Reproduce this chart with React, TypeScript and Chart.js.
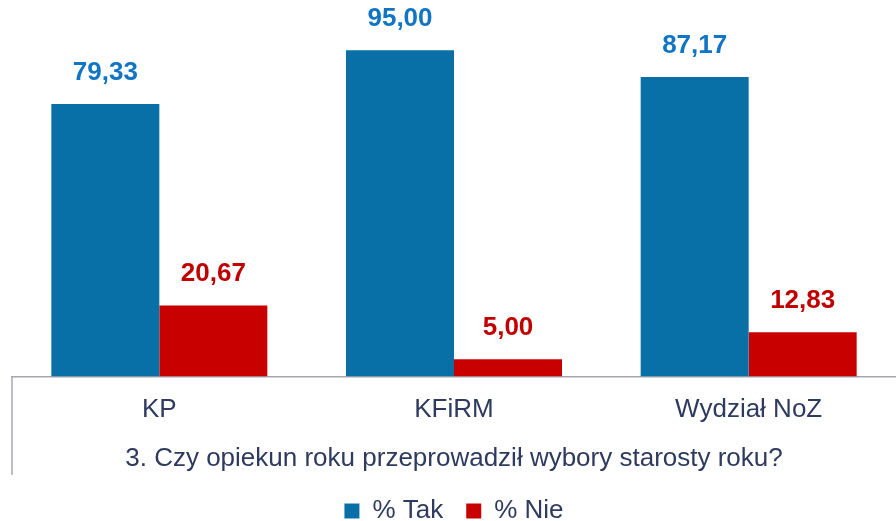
import React, { useEffect, useRef } from 'react';
import { Chart, registerables } from 'chart.js';

Chart.register(...registerables);

const categories = ['KP', 'KFiRM', 'Wydział NoZ'];
const takValues = [79.33, 95.0, 87.17];
const nieValues = [20.67, 5.0, 12.83];
const seriesLabels = ['% Tak', '% Nie'];
const axisTitle = '3. Czy opiekun roku przeprowadził wybory starosty roku?';

const FONT = '"Liberation Sans", Arial, sans-serif';
const TEXT = '#2E3A5E';
const BAR_COLORS = ['#0870A6', '#C80000'];
const LABEL_COLORS = ['#1174C4', '#C00000'];

const valueLabels = {
  id: 'valueLabels',
  afterDatasetsDraw(chart: any) {
    const ctx = chart.ctx;
    chart.data.datasets.forEach((ds: any, i: number) => {
      const meta = chart.getDatasetMeta(i);
      meta.data.forEach((bar: any, j: number) => {
        const v = ds.data[j] as number;
        ctx.save();
        ctx.font = `bold 26px ${FONT}`;
        ctx.fillStyle = LABEL_COLORS[i];
        ctx.textAlign = 'center';
        ctx.textBaseline = 'alphabetic';
        ctx.fillText(v.toFixed(2).replace('.', ','), bar.x, bar.y - 24);
        ctx.restore();
      });
    });
  },
};

const leftBorder = {
  id: 'leftBorder',
  afterDraw(chart: any) {
    const ctx = chart.ctx;
    const x = chart.chartArea.left;
    const xs = chart.scales.x;
    ctx.save();
    ctx.strokeStyle = '#A6A6AE';
    ctx.lineWidth = 1.5;
    ctx.beginPath();
    ctx.moveTo(x, chart.chartArea.bottom);
    ctx.lineTo(x, xs.bottom);
    ctx.stroke();
    ctx.restore();
  },
};

export default function App() {
  const ref = useRef<HTMLCanvasElement | null>(null);
  useEffect(() => {
    if (!ref.current) return;
    const chart = new Chart(ref.current, {
      type: 'bar',
      data: {
        labels: categories,
        datasets: [
          { label: seriesLabels[0], data: takValues, backgroundColor: BAR_COLORS[0], categoryPercentage: 0.733, barPercentage: 1 },
          { label: seriesLabels[1], data: nieValues, backgroundColor: BAR_COLORS[1], categoryPercentage: 0.733, barPercentage: 1 },
        ],
      },
      options: {
        responsive: false,
        animation: false,
        layout: { padding: { left: 12, right: 0, top: 33, bottom: 0 } },
        scales: {
          x: {
            grid: { display: false, drawTicks: false },
            border: { display: true, color: '#A6A6AE', width: 1.5 },
            ticks: { font: { family: FONT, size: 26 }, color: TEXT, padding: 17.6 },
            title: {
              display: true,
              text: axisTitle,
              font: { family: FONT, size: 26 },
              color: TEXT,
              padding: { top: 0, bottom: 1 },
            },
          },
          y: { display: false, min: 0, max: 100 },
        },
        plugins: {
          legend: {
            position: 'bottom',
            labels: { boxWidth: 15, boxHeight: 15, font: { family: FONT, size: 26 }, color: TEXT, padding: 23 },
          },
          tooltip: { enabled: false },
        },
      },
      plugins: [valueLabels, leftBorder],
    });
    return () => chart.destroy();
  }, []);
  return (
    <div style={{ position: 'fixed', left: 0, top: 0, width: 896, height: 521, overflow: 'hidden', background: '#fff' }}>
      <canvas ref={ref} width={896} height={534} style={{ display: 'block' }} />
    </div>
  );
}
